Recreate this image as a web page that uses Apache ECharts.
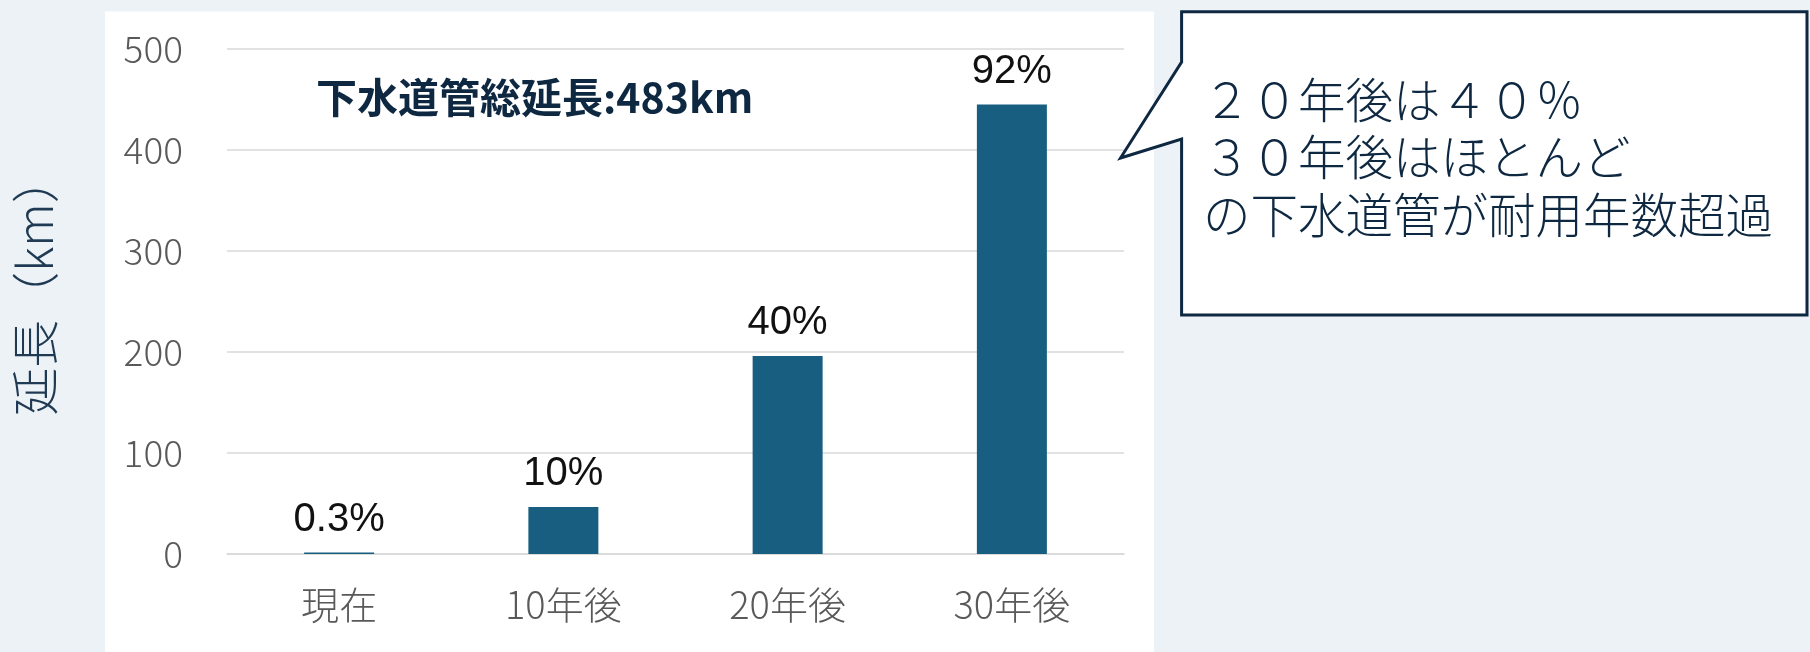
<!DOCTYPE html>
<html>
<head>
<meta charset="utf-8">
<script src="https://cdn.jsdelivr.net/npm/echarts@6/dist/echarts.min.js"></script>
<style>
html,body{margin:0;padding:0;background:#EDF2F7;}
#c{width:1810px;height:652px;}
</style>
</head>
<body>
<div id="c"></div>
<script>
const categories = ['現在', '10年後', '20年後', '30年後'];
const lengthKm = [1.5, 46.5, 196, 445];
const pctLabels = ['0.3%', '10%', '40%', '92%'];
const yTicks = [0, 100, 200, 300, 400, 500];
const totalNote = '下水道管総延長:483km';
const calloutLines = ['２０年後は４０％', '３０年後はほとんど', 'の下水道管が耐用年数超過'];

const chart = echarts.init(document.getElementById('c'));
const navy = '#0E2841';
chart.setOption({
  backgroundColor: '#EDF2F7',
  animation: false,
  grid: { left: 227, right: 686, top: 49, bottom: 98, containLabel: false, outerBoundsMode: 'none' },
  xAxis: {
    type: 'category',
    data: categories,
    axisLine: { show: true, lineStyle: { color: '#D9D9D9', width: 1.5 } },
    axisTick: { show: false },
    axisLabel: { color: '#595959', fontSize: 38, fontFamily: 'Noto Sans CJK JP', fontWeight: 300, margin: 32 }
  },
  yAxis: {
    type: 'value',
    min: yTicks[0], max: yTicks[yTicks.length - 1], interval: 100,
    name: '延長（km）',
    nameLocation: 'middle',
    nameGap: 168,
    nameTextStyle: { color: '#1F3A52', fontSize: 48, fontFamily: 'Noto Sans CJK JP', fontWeight: 300, padding: [0, 0, 0, 32] },
    axisLine: { show: false },
    axisTick: { show: false },
    splitLine: { lineStyle: { color: '#D9D9D9', width: 1.5 } },
    axisLabel: { color: '#595959', fontSize: 37, fontFamily: 'Noto Sans CJK JP', fontWeight: 300, margin: 44 }
  },
  series: [{
    type: 'bar',
    data: lengthKm,
    barWidth: 70,
    itemStyle: { color: '#185E80' },
    label: {
      show: true,
      position: 'top',
      distance: 13,
      color: '#111',
      fontSize: 40,
      fontFamily: 'Liberation Sans',
      formatter: p => pctLabels[p.dataIndex]
    }
  }],
  graphic: [
    { type: 'rect', z: -10, silent: true, shape: { x: 105, y: 11.6, width: 1049, height: 650 }, style: { fill: '#FFFFFF' } },
    { type: 'text', z: 10, left: 316, top: 77, style: { text: totalNote, fill: navy, font: 'bold 41px "Noto Sans CJK JP", "Liberation Sans"' } },
    { type: 'polygon', z: 10,
      shape: { points: [[1181.6, 11.7], [1807, 11.7], [1807, 315], [1181.6, 315], [1181.6, 139], [1120.5, 158], [1181.6, 62]] },
      style: { fill: '#FFFFFF', stroke: navy, lineWidth: 3 } },
    { type: 'text', z: 11, left: 1203, top: 71,
      style: { text: calloutLines.join('\n'), fill: navy, font: '300 47.5px "Noto Sans CJK JP"', lineHeight: 57.5 } }
  ]
});
</script>
</body>
</html>
